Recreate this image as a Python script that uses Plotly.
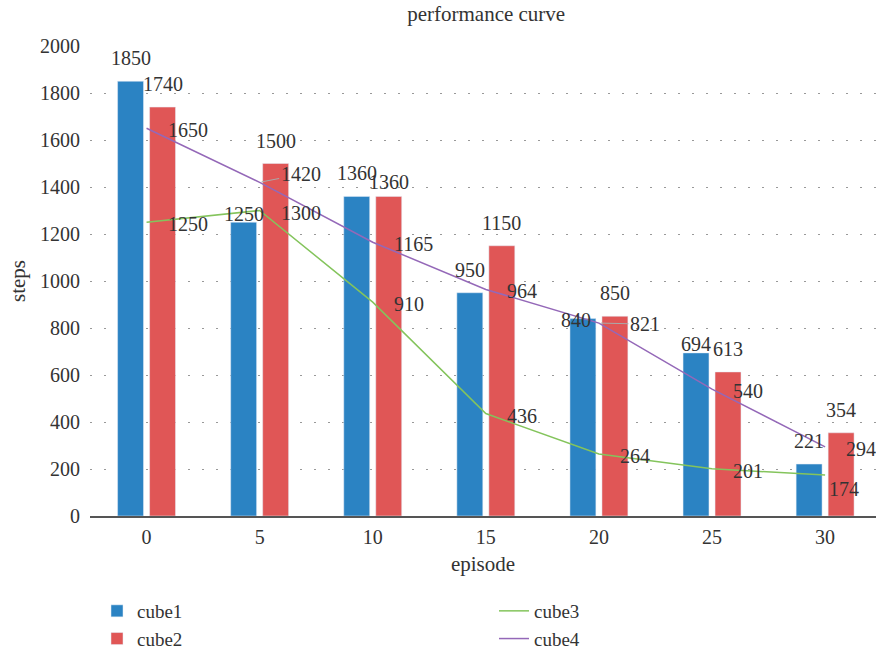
import plotly.graph_objects as go

episodes = ["0", "5", "10", "15", "20", "25", "30"]
cube1 = [1850, 1250, 1360, 950, 840, 694, 221]
cube2 = [1740, 1500, 1360, 1150, 850, 613, 354]
cube3 = [1250, 1300, 910, 436, 264, 201, 174]
cube4 = [1650, 1420, 1165, 964, 821, 540, 294]

FONT = "Liberation Serif"
TXT = "#333333"
LBL = dict(size=20, color=TXT, family=FONT)

# label nudges (pixels) used to mimic the reference's overlap avoidance
bar_nudge = {("cube1", 1): (0, -15), ("cube1", 4): (-7, -24), ("cube1", 5): (0, -14),
             ("cube2", 2): (0, -9)}
line_nudge = {("cube3", 6): (-17, -12)}
# labels drawn with a thin leader line: (dx, dy) of the text centre from the point
leader = {("cube4", 1): (41, -8), ("cube4", 4): (46, 1)}

fig = go.Figure()
fig.add_trace(go.Bar(name="cube1", x=episodes, y=cube1, marker_color="#2b83c3",
                     legend="legend"))
fig.add_trace(go.Bar(name="cube2", x=episodes, y=cube2, marker_color="#e05656",
                     legend="legend"))
fig.add_trace(go.Scatter(name="cube3", x=episodes, y=cube3, mode="lines",
                         line=dict(color="#84c45c", width=1.5), legend="legend2"))
fig.add_trace(go.Scatter(name="cube4", x=episodes, y=cube4, mode="lines",
                         line=dict(color="#9468b8", width=1.5), legend="legend2"))

# bar value labels (above each bar of the group); x given as category index
for name, vals, xs in (("cube1", cube1, -16), ("cube2", cube2, 16)):
    for i, v in enumerate(vals):
        dx, dy = bar_nudge.get((name, i), (0, 0))
        fig.add_annotation(x=i, y=v, text=str(v), showarrow=False, xshift=xs + dx,
                           yanchor="bottom", yshift=10 + dy, font=LBL)
# line value labels (to the right of each point)
for name, vals in (("cube3", cube3), ("cube4", cube4)):
    for i, v in enumerate(vals):
        if (name, i) in leader:
            ax, ay = leader[(name, i)]
            fig.add_annotation(x=i, y=v, text=str(v), showarrow=True, arrowhead=0,
                               arrowwidth=1, arrowcolor="#aaaaaa", ax=ax, ay=ay,
                               standoff=2, font=LBL)
            continue
        dx, dy = line_nudge.get((name, i), (0, 0))
        fig.add_annotation(x=i, y=v, text=str(v), showarrow=False, xanchor="left",
                           xshift=19 + dx, yanchor="middle", yshift=-2 + dy, font=LBL)

# y-axis title
fig.add_annotation(xref="paper", yref="paper", x=-(90 - 18) / 786, y=0.5,
                   text="steps", textangle=-90, showarrow=False,
                   xanchor="center", yanchor="middle", font=dict(size=21, color=TXT, family=FONT))

fig.update_layout(
    width=876, height=650,
    paper_bgcolor="white", plot_bgcolor="white",
    font=dict(family=FONT, size=20, color=TXT),
    margin=dict(l=90, r=0, t=46, b=134, autoexpand=False),
    barmode="group", bargap=0.434, bargroupgap=0.19,
    title=dict(text="performance curve", x=0.555, xanchor="center", xref="container",
               y=1 - 6.5 / 650, yanchor="top", yref="container",
               font=dict(size=21, color=TXT, family=FONT)),
    showlegend=True,
    legend=dict(orientation="v", xref="container", yref="container",
                x=97 / 876, xanchor="left", y=1 - 592 / 650, yanchor="top",
                font=dict(size=19, color=TXT, family=FONT), tracegroupgap=0,
                bgcolor="rgba(0,0,0,0)"),
    legend2=dict(orientation="v", xref="container", yref="container",
                 x=494 / 876, xanchor="left", y=1 - 592 / 650, yanchor="top",
                 font=dict(size=19, color=TXT, family=FONT), tracegroupgap=0,
                 bgcolor="rgba(0,0,0,0)"),
)
fig.update_xaxes(type="category", range=[-0.5, 6.45], showgrid=False, showline=True,
                 linecolor="#555555", linewidth=2, ticks="", ticklabelstandoff=2,
                 title=dict(text="episode", standoff=9, font=dict(size=21)),
                 tickfont=dict(size=20))
fig.update_yaxes(range=[0, 2000], dtick=200, showgrid=True, gridcolor="#999999",
                 griddash="2px,12px", gridwidth=1, zeroline=False, showline=False,
                 ticks="", ticklabelstandoff=9, tickfont=dict(size=20))

fig.write_html("out.html", config={"displayModeBar": False},
               post_script="document.body.style.margin='0';")
